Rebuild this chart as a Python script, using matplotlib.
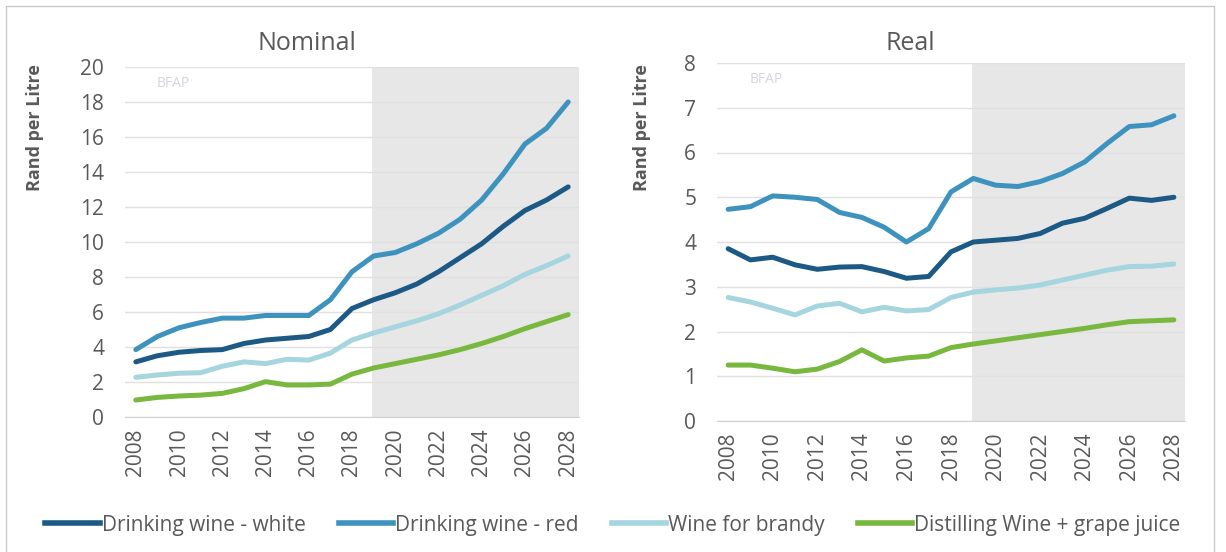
import numpy as np
import matplotlib.pyplot as plt
from matplotlib.lines import Line2D

plt.rcParams['font.family'] = ['Open Sans', 'DejaVu Sans']

# ------------------ Data ------------------
years = list(range(2008, 2029))

# Nominal (Rand per litre)
nom_white = [3.15, 3.5, 3.7, 3.8, 3.85, 4.2, 4.4, 4.5, 4.6, 5.0, 6.2,
             6.7, 7.1, 7.6, 8.3, 9.1, 9.9, 10.9, 11.8, 12.4, 13.15]
nom_red = [3.85, 4.6, 5.1, 5.4, 5.65, 5.65, 5.8, 5.8, 5.8, 6.7, 8.3,
           9.2, 9.4, 9.9, 10.5, 11.3, 12.4, 13.9, 15.6, 16.5, 18.0]
nom_brandy = [2.27, 2.4, 2.5, 2.53, 2.9, 3.15, 3.05, 3.3, 3.25, 3.65, 4.4,
              4.8, 5.15, 5.5, 5.9, 6.4, 6.95, 7.5, 8.15, 8.65, 9.2]
nom_distil = [0.97, 1.12, 1.2, 1.25, 1.35, 1.62, 2.02, 1.83, 1.83, 1.88, 2.45,
              2.8, 3.05, 3.3, 3.55, 3.85, 4.2, 4.6, 5.05, 5.45, 5.85]

# Real (Rand per litre)
real_white = [3.85, 3.6, 3.66, 3.49, 3.39, 3.44, 3.45, 3.34, 3.19, 3.23, 3.78,
              4.0, 4.04, 4.08, 4.19, 4.42, 4.53, 4.75, 4.98, 4.93, 5.0]
real_red = [4.73, 4.79, 5.03, 5.0, 4.95, 4.66, 4.55, 4.33, 4.0, 4.3, 5.12,
            5.42, 5.27, 5.24, 5.35, 5.53, 5.79, 6.2, 6.58, 6.62, 6.82]
real_brandy = [2.76, 2.66, 2.52, 2.37, 2.57, 2.63, 2.44, 2.54, 2.46, 2.49, 2.76,
               2.88, 2.93, 2.97, 3.04, 3.15, 3.26, 3.37, 3.45, 3.46, 3.51]
real_distil = [1.25, 1.25, 1.18, 1.1, 1.16, 1.33, 1.59, 1.34, 1.41, 1.45, 1.64,
               1.72, 1.79, 1.86, 1.93, 2.0, 2.07, 2.15, 2.22, 2.24, 2.26]

labels = ['Drinking wine - white', 'Drinking wine - red',
          'Wine for brandy', 'Distilling Wine + grape juice']
colors = ['#1c5a85', '#3d93bd', '#a5d5de', '#78b83e']

projection_start = 2018.93
grey_txt = '#595959'

# ------------------ Figure ------------------
fig = plt.figure(figsize=(12.26, 5.52), dpi=100)
W, H = 1226, 552

def make_axes(x0, x1, y0, y1):
    return fig.add_axes([x0 / W, 1 - y1 / H, (x1 - x0) / W, (y1 - y0) / H])

ax1 = make_axes(125, 579, 67, 417)
ax2 = make_axes(717, 1185, 63, 421)

panels = [
    (ax1, [nom_white, nom_red, nom_brandy, nom_distil], 20, 2),
    (ax2, [real_white, real_red, real_brandy, real_distil], 8, 1),
]

for ax, series, ymax, step in panels:
    ax.axvspan(projection_start, 2028.5, color='#e7e7e7', zorder=0, lw=0)
    for vals, c in zip(series, colors):
        ax.plot(years, vals, color=c, lw=3.6, solid_capstyle='round', zorder=3)
    ax.set_xlim(2007.5, 2028.5)
    ax.set_ylim(0, ymax)
    ax.set_yticks(np.arange(0, ymax + step, step))
    ax.set_xticks(years[::2])
    ax.set_xticklabels([str(y) for y in years[::2]], rotation=90)
    ax.grid(axis='y', color='#e0e0e0', lw=1, zorder=1)
    ax.set_axisbelow(True)
    for s in ['top', 'right', 'left']:
        ax.spines[s].set_visible(False)
    ax.spines['bottom'].set_color('#d0d0d0')
    ax.tick_params(axis='both', length=0, labelsize=15, colors=grey_txt)
    ax.tick_params(axis='y', pad=15)
    ax.tick_params(axis='x', pad=8)
    ax.text(0.07, 0.975, 'BFAP', transform=ax.transAxes, fontsize=10,
            color='#c8ccd4', va='top', ha='left', alpha=0.8)

# titles and axis labels
fig.text(307 / W, 1 - 44 / H, 'Nominal', ha='center', va='center',
         fontsize=18, color=grey_txt)
fig.text(910 / W, 1 - 44 / H, 'Real', ha='center', va='center',
         fontsize=18, color=grey_txt)
fig.text(35 / W, 1 - 128 / H, 'Rand per Litre', rotation=90, ha='center',
         va='center', fontsize=13, fontweight='bold', color=grey_txt)
fig.text(642 / W, 1 - 128 / H, 'Rand per Litre', rotation=90, ha='center',
         va='center', fontsize=13, fontweight='bold', color=grey_txt)

# legend
handles = [Line2D([0], [0], color=c, lw=4) for c in colors]
fig.legend(handles, labels, loc='center', bbox_to_anchor=(0.5, 1 - 525 / H),
           ncol=4, frameon=False, fontsize=15, handlelength=2.6,
           handletextpad=0.1, columnspacing=1.6, labelcolor=grey_txt)

# outer frame
fig.add_artist(Line2D([6 / W, 6 / W, 1214 / W, 1214 / W],
                      [0, 1 - 6 / H, 1 - 6 / H, 0],
                      color='#c8c8c8', lw=1))

fig.savefig('out.png', dpi=100)
